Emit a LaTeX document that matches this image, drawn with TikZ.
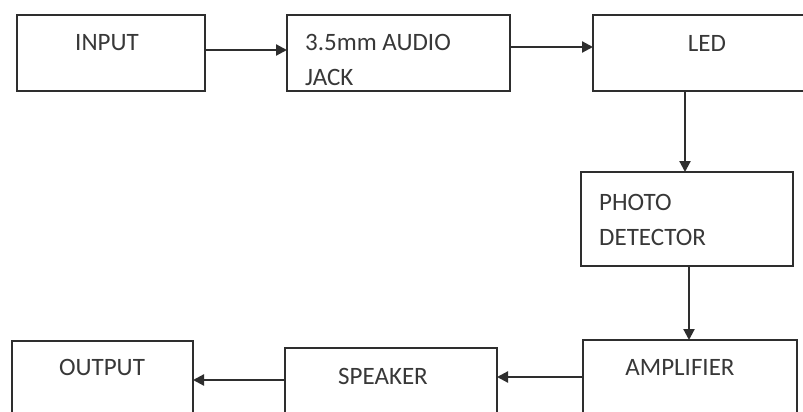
\documentclass[tikz,border=0pt]{standalone}
\usepackage{fontspec}
\setmainfont{Carlito}
\usetikzlibrary{arrows.meta}
\definecolor{ln}{HTML}{2E2E2E}
\definecolor{tx}{HTML}{383838}
\begin{document}
\begin{tikzpicture}[x=1pt,y=-1pt,
  blk/.style={draw=ln,line width=2.5pt,rectangle,inner sep=0pt,outer sep=0pt,fill=white},
  lbl/.style={text=tx,font=\fontsize{25}{35}\selectfont,inner sep=0pt},
  arr/.style={draw=ln,line width=2.2pt,-{Triangle[length=11pt,width=11pt]}}]
\useasboundingbox (0,0) rectangle (803,412);
\clip (0,0) rectangle (803,412);
\fill[white] (0,0) rectangle (803,412);
% boxes
\node[blk,minimum width=188pt,minimum height=76pt] (input) at (111,53) {};
\node[blk,minimum width=223pt,minimum height=76pt] (jack) at (398.5,53) {};
\node[blk,minimum width=227pt,minimum height=76pt] (led) at (706.5,53) {};
\node[blk,minimum width=212pt,minimum height=94pt] (photo) at (687,219) {};
\node[blk,minimum width=214pt,minimum height=80pt] (amp) at (690,380) {};
\node[blk,minimum width=212pt,minimum height=77pt] (speaker) at (391,386.5) {};
\node[blk,minimum width=181pt,minimum height=79pt] (output) at (102.5,380.5) {};
% texts
\node[lbl] (tinput) at (107,43) {INPUT};
\node[lbl,anchor=west,align=left] (tjack) at (305,60) {3.5mm AUDIO\\JACK};
\node[lbl] (tled) at (707,43) {LED};
\node[lbl,anchor=west,align=left] (tphoto) at (599,219.5) {PHOTO\\DETECTOR};
\node[lbl] (tamp) at (680,367) {AMPLIFIER};
\node[lbl] (tspeaker) at (383,376) {SPEAKER};
\node[lbl] (toutput) at (102,367) {OUTPUT};
% connector start points
\coordinate (c1) at ([yshift=3pt]input.east);
\coordinate (c2) at ([yshift=6pt]jack.east);
\coordinate (c3) at ([xshift=-21.5pt]led.south);
\coordinate (c4) at ([xshift=2pt]photo.south);
\coordinate (c5) at ([yshift=3pt]amp.west);
\coordinate (c6) at ([yshift=6.5pt]speaker.west);
\draw[arr] (c1) -- (c1 -| jack.west);
\draw[arr] (c2) -- (c2 -| led.west);
\draw[arr] (c3) -- (c3 |- photo.north);
\draw[arr] (c4) -- (c4 |- amp.north);
\draw[arr] (c5) -- (c5 -| speaker.east);
\draw[arr] (c6) -- (c6 -| output.east);
\end{tikzpicture}
\end{document}
